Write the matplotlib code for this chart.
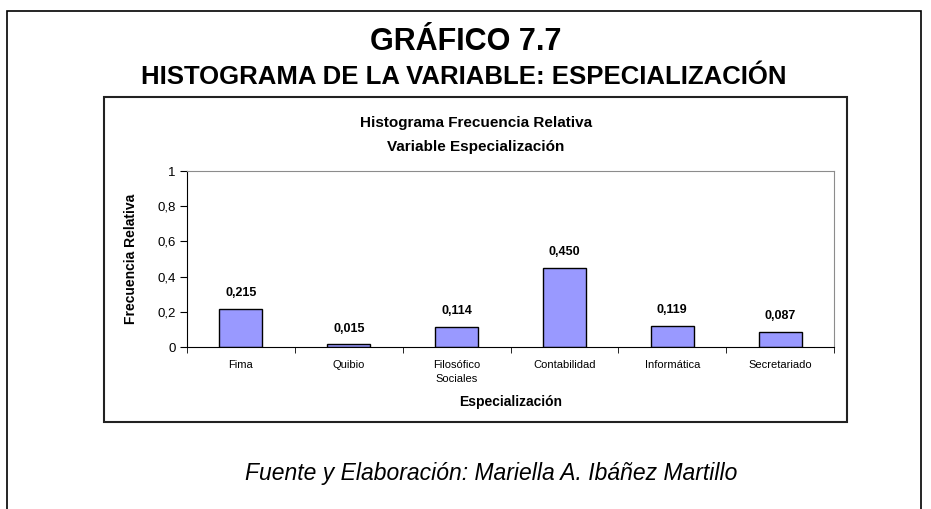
import matplotlib
matplotlib.use("Agg")
import matplotlib.pyplot as plt
from matplotlib.patches import Rectangle

categories = ["Fima", "Quibio", "Filosófico\nSociales", "Contabilidad",
              "Informática", "Secretariado"]
rel_freq = [0.215, 0.015, 0.114, 0.450, 0.119, 0.087]
y_ticks = [0, 0.2, 0.4, 0.6, 0.8, 1.0]
y_ticklabels = ["0", "0,2", "0,4", "0,6", "0,8", "1"]

W, H = 931, 509
plt.rcParams["font.family"] = ["Liberation Sans", "DejaVu Sans"]


def fx(px):
    return px / W


def fy(py):
    return 1 - py / H


fig = plt.figure(figsize=(W / 100, H / 100), dpi=100)

# outer frame (open at the bottom) and inner chart box
fig.add_artist(Rectangle((fx(7), fy(560)), fx(914), 549 / H, transform=fig.transFigure,
                         fill=False, ec="black", lw=1.2))
fig.add_artist(Rectangle((fx(104), fy(422)), fx(743), 325 / H, transform=fig.transFigure,
                         fill=False, ec="#222222", lw=1.5))

fig.text(fx(466), fy(50), "GRÁFICO 7.7", ha="center", va="baseline",
         fontsize=22, fontweight="bold")
fig.text(fx(464), fy(84), "HISTOGRAMA DE LA VARIABLE: ESPECIALIZACIÓN", ha="center",
         va="baseline", fontsize=18.5, fontweight="bold")
fig.text(fx(491), fy(480), "Fuente y Elaboración: Mariella A. Ibáñez Martillo",
         ha="center", va="baseline", fontsize=16.5, style="italic")

ax = fig.add_axes([fx(187), fy(347), fx(834 - 187), (347 - 171) / H])
x = list(range(len(categories)))
bars = ax.bar(x, rel_freq, width=0.4, color="#9999FF", edgecolor="black", lw=1.0)
ax.set_xlim(-0.5, len(categories) - 0.5)
ax.set_ylim(0, 1)
ax.set_yticks(y_ticks)
ax.set_yticklabels(y_ticklabels, fontsize=9.5)
ax.set_xticks(x)
ax.set_xticklabels(categories, fontsize=8, linespacing=1.5)
ax.tick_params(axis="x", length=0, pad=9)
ax.set_xticks([i + 0.5 for i in range(-1, len(categories))], minor=True)
ax.tick_params(axis="x", which="minor", length=4, direction="out")
ax.tick_params(axis="y", length=5, direction="out", pad=3)
for s in ["top", "right"]:
    ax.spines[s].set_color("#8c8c8c")
for s in ["left", "bottom"]:
    ax.spines[s].set_color("black")

for b, v in zip(bars, rel_freq):
    ax.text(b.get_x() + b.get_width() / 2, v + 0.09, f"{v:.3f}".replace(".", ","),
            ha="center", va="center", fontsize=9, fontweight="bold")

ax.set_xlabel("Especialización", fontsize=10, fontweight="bold", labelpad=8)
ax.set_ylabel("Frecuencia Relativa", fontsize=10, fontweight="bold", labelpad=14)

fig.text(fx(476), fy(127), "Histograma Frecuencia Relativa", ha="center", va="baseline",
         fontsize=11, fontweight="bold")
fig.text(fx(476), fy(151), "Variable Especialización", ha="center", va="baseline",
         fontsize=11, fontweight="bold")

fig.savefig("out.png", dpi=100)
